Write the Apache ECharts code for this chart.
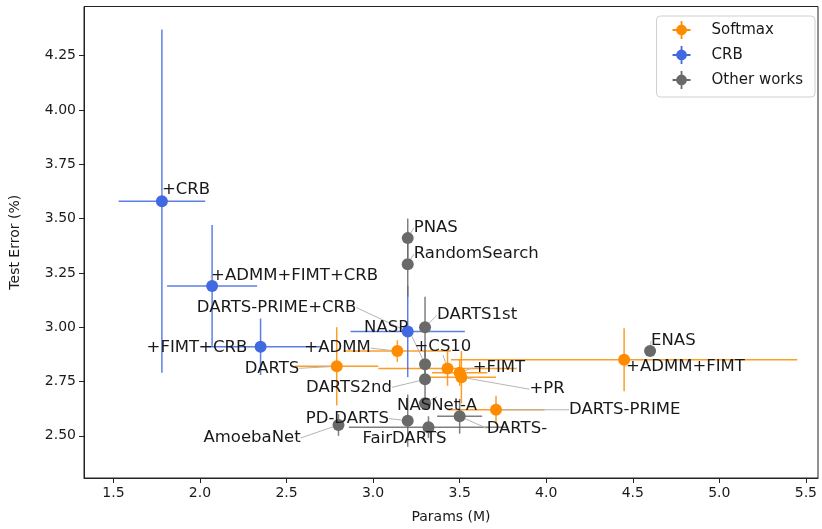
<!DOCTYPE html>
<html>
<head><meta charset="utf-8">
<script src="https://cdn.jsdelivr.net/npm/echarts@6/dist/echarts.min.js"></script>
</head>
<body style="margin:0;background:#fff;">
<div id="main" style="width:822px;height:529px;"></div>
<script>
// softmax results
var softNames = ['DARTS', '+ADMM', '+CS10', '+FIMT', '+PR', '+ADMM+FIMT', 'DARTS-PRIME'];
var softX     = [2.79, 3.14, 3.43, 3.50, 3.51, 4.45, 3.71];
var softXErr  = [0.24, 0.31, 0.40, 0.16, 0.20, 1.00, 0.28];
var softY     = [2.82, 2.89, 2.81, 2.79, 2.77, 2.85, 2.62];
var softYErr  = [0.18, 0.05, 0.08, 0.06, 0.12, 0.145, 0.065];

// CRB results
var crbNames = ['+CRB', '+ADMM+FIMT+CRB', '+FIMT+CRB', 'DARTS-PRIME+CRB'];
var crbX     = [1.78, 2.07, 2.35, 3.20];
var crbXErr  = [0.25, 0.26, 0.35, 0.33];
var crbY     = [3.58, 3.19, 2.91, 2.98];
var crbYErr  = [0.79, 0.28, 0.13, 0.21];

// other works
var otherNames = ['PNAS', 'RandomSearch', 'DARTS1st', 'NASP', 'DARTS2nd', 'NASNet-A', 'ENAS', 'PD-DARTS', 'AmoebaNet', 'FairDARTS', 'DARTS-'];
var otherX    = [3.2, 3.2, 3.3, 3.3, 3.3, 3.3, 4.6, 3.2, 2.8, 3.32, 3.5];
var otherXErr = [0, 0, 0, 0, 0, 0, 0, 0, 0, 0.46, 0.13];
var otherY    = [3.41, 3.29, 3.00, 2.83, 2.76, 2.65, 2.89, 2.57, 2.55, 2.54, 2.59];
var otherYErr = [0.09, 0.15, 0.14, 0.09, 0.09, 0, 0, 0.12, 0.05, 0.05, 0.08];

var xTicks = [1.5, 2.0, 2.5, 3.0, 3.5, 4.0, 4.5, 5.0, 5.5];
var yTicks = [2.50, 2.75, 3.00, 3.25, 3.50, 3.75, 4.00, 4.25];

// label offset from point (px): text left edge, text middle
var labelShift = {
    '+CRB': [0, -11], '+ADMM+FIMT+CRB': [-1, -10], 'DARTS-PRIME+CRB': [-211, -24], '+FIMT+CRB': [-114, 1],
    'NASP': [-61, -36], 'DARTS1st': [12, -12], 'PNAS': [6, -10], 'RandomSearch': [6, -10],
    '+ADMM': [-93, -3], '+CS10': [-33, -22], 'DARTS': [-92, 2], 'DARTS2nd': [-119, 8],
    '+FIMT': [13, -5], '+PR': [68, 12], '+ADMM+FIMT': [2, 7], 'ENAS': [1, -10],
    'NASNet-A': [-28, 2], 'DARTS-PRIME': [73, 0], 'PD-DARTS': [-102, -2], 'DARTS-': [27, 12],
    'AmoebaNet': [-135, 13], 'FairDARTS': [-66, 12]
};

var ORANGE = '#ff8c00', BLUE = '#4169e1', GRAY = '#696969';
var font = 'DejaVu Sans';

function errSeries(name, xs, xe, ys, ye, color) {
    var data = xs.map(function (x, i) { return [x, ys[i], xe[i], ye[i]]; });
    return {
        name: name,
        type: 'custom',
        silent: true,
        itemStyle: {color: color},
        data: data,
        encode: {x: 0, y: 1},
        renderItem: function (params, api) {
            var x = api.value(0), y = api.value(1), dx = api.value(2), dy = api.value(3);
            var l = api.coord([x - dx, y]), r = api.coord([x + dx, y]);
            var t = api.coord([x, y + dy]), b = api.coord([x, y - dy]);
            var st = {stroke: color, lineWidth: 1.5, opacity: 0.85};
            return {type: 'group', children: [
                {type: 'line', shape: {x1: l[0], y1: l[1], x2: r[0], y2: r[1]}, style: st},
                {type: 'line', shape: {x1: t[0], y1: t[1], x2: b[0], y2: b[1]}, style: st}
            ]};
        }
    };
}

function dotSeries(name, names, xs, ys, color) {
    return {
        name: name,
        type: 'scatter',
        symbolSize: 12,
        itemStyle: {color: color, opacity: 1},
        data: names.map(function (n, i) { return {name: n, value: [xs[i], ys[i]]}; }),
        label: {
            show: true,
            formatter: '{b}',
            color: '#1a1a1a',
            fontFamily: font,
            fontSize: 16.5
        },
        labelLine: {show: true, length2: 0, lineStyle: {color: '#b5b5b5', width: 1}},
        labelLayout: function (p) {
            var s = labelShift[names[p.dataIndex]];
            var cx = p.rect.x + p.rect.width / 2, cy = p.rect.y + p.rect.height / 2;
            return {x: cx + s[0], y: cy + s[1], align: 'left', verticalAlign: 'middle'};
        }
    };
}

var legIcon = 'path://M0,9 L20,9 L20,11 L0,11 Z M9,0 L11,0 L11,20 L9,20 Z M10,4 A6,6 0 1,1 9.99,4 Z';

var myChart = echarts.init(document.getElementById('main'));
myChart.setOption({
    animation: false,
    grid: {left: 82.5, right: 4, top: 6.5, bottom: 46.5, show: true, borderColor: '#222', borderWidth: 1},
    legend: {
        orient: 'vertical',
        right: 7,
        top: 16,
        padding: [5, 12, 8, 16],
        itemGap: 7,
        itemWidth: 18,
        itemHeight: 18,
        borderColor: '#d0d0d0',
        borderWidth: 1,
        borderRadius: 4,
        textStyle: {fontFamily: font, fontSize: 15, color: '#1a1a1a', padding: [0, 0, 0, 16]},
        data: [
            {name: 'Softmax', icon: legIcon, itemStyle: {color: ORANGE}},
            {name: 'CRB', icon: legIcon, itemStyle: {color: BLUE}},
            {name: 'Other works', icon: legIcon, itemStyle: {color: GRAY}}
        ]
    },
    xAxis: {
        type: 'value',
        min: 1.33,
        max: 5.57,
        name: 'Params (M)',
        nameLocation: 'middle',
        nameGap: 32,
        nameTextStyle: {fontFamily: font, fontSize: 14, color: '#1a1a1a'},
        splitLine: {show: false},
        axisLine: {lineStyle: {color: '#222'}},
        axisTick: {show: true, length: 5, lineStyle: {color: '#222'}, customValues: xTicks},
        axisLabel: {fontFamily: font, fontSize: 14, color: '#1a1a1a', margin: 8, customValues: xTicks,
            formatter: function (v) { return v.toFixed(1); }}
    },
    yAxis: {
        type: 'value',
        min: 2.306,
        max: 4.476,
        name: 'Test Error (%)',
        nameLocation: 'middle',
        nameGap: 62,
        nameTextStyle: {fontFamily: font, fontSize: 14, color: '#1a1a1a'},
        splitLine: {show: false},
        axisLine: {show: true, lineStyle: {color: '#222'}},
        axisTick: {show: true, length: 5, lineStyle: {color: '#222'}, customValues: yTicks},
        axisLabel: {fontFamily: font, fontSize: 14, color: '#1a1a1a', margin: 8, customValues: yTicks,
            formatter: function (v) { return v.toFixed(2); }}
    },
    series: [
        errSeries('Softmax', softX, softXErr, softY, softYErr, ORANGE),
        dotSeries('Softmax', softNames, softX, softY, ORANGE),
        errSeries('CRB', crbX, crbXErr, crbY, crbYErr, BLUE),
        dotSeries('CRB', crbNames, crbX, crbY, BLUE),
        errSeries('Other works', otherX, otherXErr, otherY, otherYErr, GRAY),
        dotSeries('Other works', otherNames, otherX, otherY, GRAY)
    ]
});
</script>
</body>
</html>
